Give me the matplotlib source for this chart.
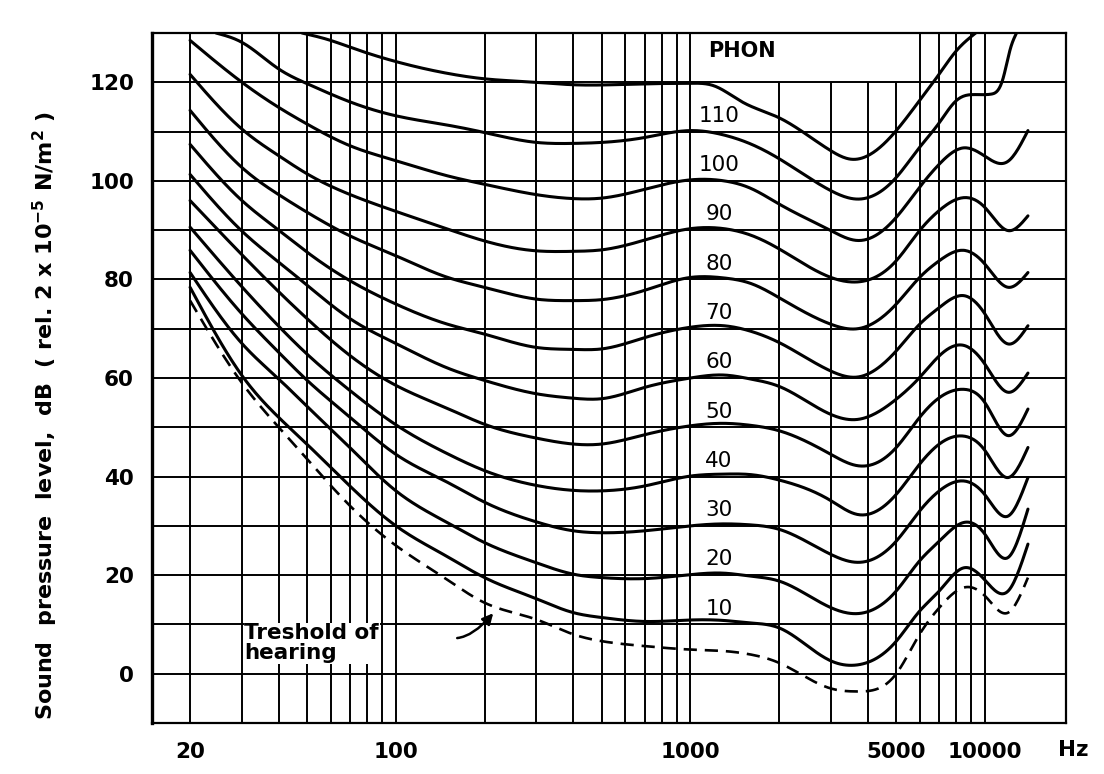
import numpy as np
import matplotlib.pyplot as plt
from matplotlib.ticker import NullLocator

plt.rc('font', family='DejaVu Sans')
plt.rc('mathtext', default='regular')

# frequencies (Hz) where the 10..100 phon curves and the threshold were read
freq = [20, 30, 40, 50, 70, 100, 150, 200, 300, 400, 500, 700, 1000, 1300, 1600,
        2000, 3000, 3700, 5000, 6000, 7000, 8500, 10000, 12000, 14000]

threshold = [75.7, 59.0, 50.0, 43.5, 34.0, 26.0, 19.0, 14.4, 11.0, 8.0, 6.6, 5.6, 4.9, 4.6, 3.9,
             2.2, -3.0, -3.6, 0.0, 8.0, 13.4, 17.5, 15.8, 12.4, 19.5]
phon10 = [78.4, 60.5, 52.0, 46.5, 38.0, 30.0, 23.7, 19.5, 15.2, 12.4, 11.4, 10.6, 10.9, 10.8, 10.3,
          9.3, 2.6, 1.8, 6.6, 12.7, 16.8, 21.5, 19.0, 16.8, 26.3]
phon20 = [81.4, 67.0, 59.8, 54.2, 45.8, 37.1, 30.6, 26.6, 22.5, 20.2, 19.5, 19.3, 20.1, 20.4, 19.8,
          18.8, 13.4, 12.2, 16.8, 22.9, 26.9, 30.7, 28.3, 23.6, 33.4]
phon30 = [85.9, 73.0, 65.2, 59.5, 52.0, 44.5, 38.8, 34.8, 30.8, 29.0, 28.6, 29.0, 30.0, 30.4, 30.2,
          29.3, 24.2, 22.6, 26.9, 33.0, 37.1, 39.1, 36.3, 32.0, 39.8]
phon40 = [90.6, 78.5, 70.5, 64.8, 57.4, 50.5, 44.6, 41.2, 38.2, 37.2, 37.1, 38.1, 40.1, 40.5, 40.4,
          39.3, 35.1, 32.3, 36.4, 42.5, 46.6, 48.2, 45.3, 39.8, 45.9]
phon50 = [96.0, 85.0, 77.5, 72.0, 64.5, 58.5, 53.8, 50.6, 47.8, 46.6, 46.6, 48.5, 50.3, 50.8, 50.4,
          49.3, 44.5, 42.2, 45.9, 52.0, 56.0, 57.7, 55.0, 48.3, 53.7]
phon60 = [101.3, 89.8, 83.5, 78.8, 72.0, 67.0, 62.0, 59.5, 56.8, 55.9, 55.8, 58.1, 60.0, 60.6, 59.8,
          58.3, 52.6, 51.6, 55.7, 60.1, 64.5, 66.6, 62.8, 57.1, 61.0]
phon70 = [107.4, 96.0, 90.0, 85.5, 79.7, 75.0, 70.9, 68.9, 66.2, 65.8, 65.9, 68.2, 70.3, 70.6, 69.5,
          67.2, 61.4, 60.2, 65.5, 70.9, 74.3, 76.7, 73.0, 66.9, 70.6]
phon80 = [114.3, 102.7, 97.2, 93.6, 88.8, 84.8, 80.4, 78.4, 76.0, 75.7, 75.9, 77.8, 80.4, 80.3, 79.2,
          76.3, 70.9, 70.0, 75.0, 80.4, 83.8, 85.9, 83.1, 78.4, 81.4]
phon90 = [121.6, 110.5, 105.1, 101.4, 97.2, 93.8, 90.2, 87.8, 85.8, 85.7, 86.0, 88.0, 90.3, 90.3, 89.0,
          86.2, 80.4, 79.5, 83.8, 89.9, 94.0, 96.6, 94.6, 89.9, 92.9]
phon100 = [128.5, 120.0, 114.9, 111.5, 107.1, 104.1, 101.0, 99.3, 97.2, 96.4, 96.5, 98.3, 100.2, 100.0, 98.5,
           95.3, 89.9, 87.9, 92.6, 98.7, 103.4, 106.7, 105.0, 104.0, 110.2]

# the two loudest curves run out of the chart, so they have their own frequencies
freq110 = [24.5, 30, 40, 50, 70, 100, 150, 200, 300, 400, 500, 700, 1000, 1300, 1600,
           2000, 3000, 3700, 5000, 6000, 7000, 8000, 9400, 10500, 11500, 12200, 12800]
phon110 = [130.0, 128.1, 122.7, 119.7, 116.0, 113.2, 111.3, 109.8, 107.8, 107.6, 107.8, 108.8, 110.2, 109.3, 107.5,
           104.5, 98.0, 96.3, 100.7, 106.8, 111.8, 116.3, 117.5, 117.6, 120.6, 126.8, 130.0]
freq120 = [48, 60, 70, 100, 150, 200, 300, 400, 700, 1000, 1200, 1500, 2000, 3000, 3500, 4000,
           5000, 6000, 7000, 8000, 9300]
phon120 = [130.0, 128.5, 127.1, 124.2, 121.8, 120.7, 120.0, 119.5, 119.7, 119.8, 119.3, 116.0, 112.8, 106.1, 104.4, 105.1,
           110.2, 116.3, 121.7, 126.4, 130.0]

curves = [phon10, phon20, phon30, phon40, phon50, phon60, phon70, phon80, phon90, phon100]
levels = [10, 20, 30, 40, 50, 60, 70, 80, 90, 100, 110]

xticks = [20, 100, 1000, 5000, 10000]
yticks = [0, 20, 40, 60, 80, 100, 120]
grid_f = [20, 30, 40, 50, 60, 70, 80, 90, 100, 200, 300, 400, 500, 600, 700, 800, 900,
          1000, 2000, 3000, 4000, 5000, 6000, 7000, 8000, 9000, 10000]


def smooth(f, db, n=600):
    # natural cubic spline through the read points, in log-frequency
    x = np.log10(f)
    y = np.asarray(db, float)
    k = len(x)
    h = np.diff(x)
    A = np.zeros((k, k))
    r = np.zeros(k)
    A[0, 0] = A[-1, -1] = 1.0
    for i in range(1, k - 1):
        A[i, i-1] = h[i-1]
        A[i, i] = 2 * (h[i-1] + h[i])
        A[i, i+1] = h[i]
        r[i] = 6 * ((y[i+1] - y[i]) / h[i] - (y[i] - y[i-1]) / h[i-1])
    M = np.linalg.solve(A, r)
    xs = np.linspace(x[0], x[-1], n)
    i = np.clip(np.searchsorted(x, xs) - 1, 0, k - 2)
    a = x[i+1] - xs
    b = xs - x[i]
    hi = h[i]
    ys = (M[i] * a**3 / (6*hi) + M[i+1] * b**3 / (6*hi)
          + (y[i]/hi - M[i]*hi/6) * a + (y[i+1]/hi - M[i+1]*hi/6) * b)
    return 10**xs, ys


fig = plt.figure(figsize=(11.04, 7.74), dpi=100)
ax = fig.add_axes([152/1104, 51/774, 914/1104, 690/774])
ax.set_xscale('log')
xlo, xhi = 14.85, 18850
ax.set_xlim(xlo, xhi)
ax.set_ylim(-10, 130)

# grid (the 2000-5000 Hz lines stop at 120 dB, leaving room for PHON)
tops = [120 if 2000 <= f <= 5000 else 130 for f in grid_f]
ax.vlines(grid_f, -10, tops, color='black', lw=1.4, zorder=1)
ax.hlines(np.arange(-10, 131, 10), xlo, xhi, color='black', lw=1.4, zorder=1)

for db in curves:
    fx, fy = smooth(freq, db)
    ax.plot(fx, fy, color='black', lw=2.2, zorder=3, solid_capstyle='round')
for f, db in [(freq110, phon110), (freq120, phon120)]:
    fx, fy = smooth(f, db)
    ax.plot(fx, fy, color='black', lw=2.2, zorder=3, solid_capstyle='round')
fx, fy = smooth(freq, threshold)
ax.plot(fx, fy, color='black', lw=1.9, ls=(0, (5, 3)), zorder=3)

for lv in levels:
    ax.text(1250, lv + 3.2, str(lv), fontsize=15.5, ha='center', va='center', zorder=4)
ax.text(1500, 126.3, 'PHON', fontsize=15, fontweight='bold', ha='center', va='center')

ax.text(30.6, 6.2, 'Treshold of\nhearing', fontsize=15.5, fontweight='bold',
        ha='left', va='center', linespacing=1.0, zorder=4,
        bbox=dict(facecolor='white', edgecolor='none', pad=0.5))
ax.annotate('', xy=(217, 12.7), xytext=(158, 7.2), zorder=5,
            arrowprops=dict(arrowstyle='-|>', color='black', lw=1.8, mutation_scale=16,
                            connectionstyle='angle3,angleA=0,angleB=50'))

ax.set_xticks(xticks)
ax.set_xticklabels([str(v) for v in xticks])
ax.xaxis.set_minor_locator(NullLocator())
ax.set_yticks(yticks)
ax.set_yticklabels([str(v) for v in yticks])
ax.tick_params(axis='both', length=0, labelsize=15.5)
ax.tick_params(axis='x', pad=14)
ax.tick_params(axis='y', pad=13)
for lbl in ax.get_xticklabels() + ax.get_yticklabels():
    lbl.set_fontweight('bold')

for s in ax.spines.values():
    s.set_linewidth(1.6)
ax.spines['left'].set_linewidth(2.4)

fig.text(45/1104, 1 - 416/774,
         'Sound  pressure  level,  dB  ( rel. 2 x 10$^{-5}$ N/m$^{2}$ )',
         rotation=90, ha='center', va='center', fontsize=16, fontweight='bold')
fig.text(1073/1104, 1 - 750/774, 'Hz', ha='center', va='center', fontsize=15.5, fontweight='bold')

fig.savefig('out.png', dpi=100)
